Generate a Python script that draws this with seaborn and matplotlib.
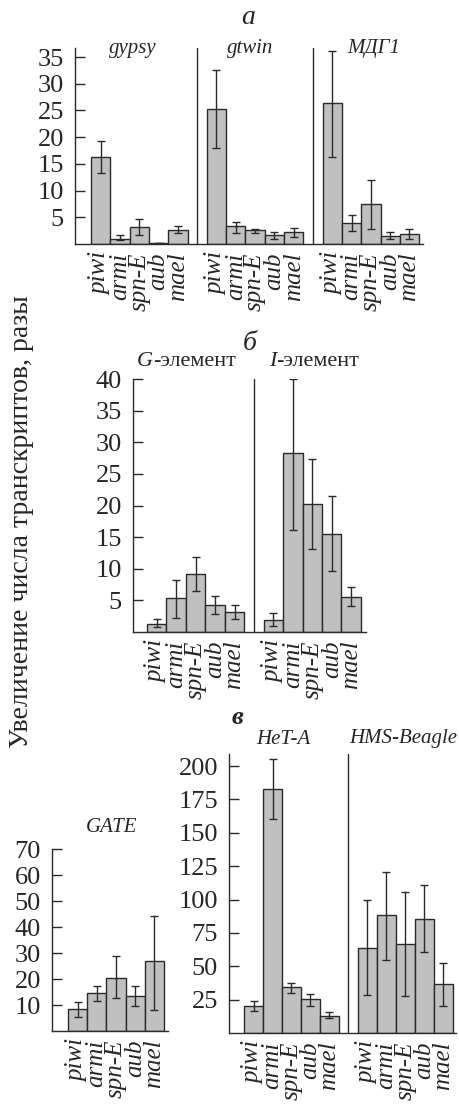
import pandas as pd
import numpy as np
import matplotlib
matplotlib.use("Agg")
import matplotlib.pyplot as plt
import seaborn as sns

# ---- DATA ----
genes = ["piwi", "armi", "spn-E", "aub", "mael"]

# panel а
gypsy_val = [16.2, 1.0, 3.1, 0.15, 2.7]
gypsy_lo = [13.3, 0.7, 1.6, 0.15, 2.0]
gypsy_hi = [19.3, 1.7, 4.7, 0.15, 3.4]

gtwin_val = [25.2, 3.3, 2.55, 1.6, 2.2]
gtwin_lo = [17.9, 2.0, 2.05, 1.0, 1.3]
gtwin_hi = [32.5, 4.2, 2.9, 2.3, 3.05]

mdg1_val = [26.4, 3.9, 7.4, 1.5, 1.9]
mdg1_lo = [16.2, 2.5, 2.9, 0.9, 1.0]
mdg1_hi = [36.2, 5.5, 12.0, 2.3, 2.9]

# panel б
g_el_val = [1.27, 5.3, 9.1, 4.3, 3.1]
g_el_lo = [0.74, 2.2, 6.5, 2.9, 2.1]
g_el_hi = [2.06, 8.3, 11.8, 5.75, 4.3]

i_el_val = [1.85, 28.3, 20.3, 15.5, 5.6]
i_el_lo = [0.9, 16.1, 13.2, 9.6, 4.1]
i_el_hi = [3.0, 40.0, 27.3, 21.5, 7.1]

# panel в
gate_val = [8.3, 14.5, 20.5, 13.4, 26.8]
gate_lo = [5.5, 11.65, 12.8, 9.6, 8.1]
gate_hi = [11.3, 17.3, 28.8, 17.3, 44.4]

heta_val = [20.25, 183.0, 34.25, 25.25, 13.0]
heta_lo = [16.25, 160.0, 30.25, 20.25, 11.0]
heta_hi = [24.0, 205.5, 37.5, 29.5, 15.75]

hms_val = [63.75, 88.5, 66.75, 85.5, 36.5]
hms_lo = [28.75, 54.5, 27.5, 60.5, 20.25]
hms_hi = [100.0, 120.25, 105.75, 110.5, 52.75]

W, H = 460, 1108
BAR = "#c0c0c0"
EDGE = "#2a2a2a"

sns.set_style("ticks")
plt.rcParams["font.family"] = ["Liberation Serif", "DejaVu Serif"]


def px_rect(x0, y0, x1, y1):
    return [x0 / W, 1 - y1 / H, (x1 - x0) / W, (y1 - y0) / H]


def px(x, y):
    return x / W, 1 - y / H


def draw_panel(ax, groups, xlim, ylim, yticks):
    rows = []
    for g, (vals, lo, hi) in enumerate(groups):
        for i, gene in enumerate(genes):
            rows.append({"pos": g * 6 + i, "gene": gene, "val": vals[i],
                         "lo": lo[i], "hi": hi[i]})
    df = pd.DataFrame(rows)
    sns.barplot(data=df, x="pos", y="val", native_scale=True, width=1,
                color=BAR, saturation=1, edgecolor=EDGE, linewidth=1,
                errorbar=None, ax=ax)
    ax.errorbar(df["pos"], df["val"],
                yerr=[df["val"] - df["lo"], df["hi"] - df["val"]],
                fmt="none", ecolor=EDGE, elinewidth=1, capsize=3, capthick=1)
    for g in range(1, len(groups)):
        ax.axvline(g * 6 - 1, color=EDGE, lw=1)
    ax.set_xlim(*xlim)
    ax.set_ylim(*ylim)
    ax.set_yticks(yticks)
    ax.set_yticklabels([str(t) for t in yticks], fontsize=19)
    ax.set_xticks(df["pos"])
    ax.set_xticklabels(df["gene"], rotation=90, fontsize=18, style="italic",
                       va="top", ha="center")
    ax.tick_params(axis="y", direction="in", length=7, width=1, color=EDGE, pad=8)
    ax.tick_params(axis="x", length=0, pad=6)
    ax.set_xlabel("")
    ax.set_ylabel("")
    sns.despine(ax=ax)
    for s in ["left", "bottom"]:
        ax.spines[s].set_color(EDGE)
        ax.spines[s].set_linewidth(1)


fig = plt.figure(figsize=(W / 100, H / 100), dpi=100)

ax_a = fig.add_axes(px_rect(75, 48, 423, 244))
draw_panel(ax_a, [(gypsy_val, gypsy_lo, gypsy_hi),
                  (gtwin_val, gtwin_lo, gtwin_hi),
                  (mdg1_val, mdg1_lo, mdg1_hi)],
           (-1.33, 16.7), (0, 36.7), [5, 10, 15, 20, 25, 30, 35])

ax_b = fig.add_axes(px_rect(133, 379, 366, 632))
draw_panel(ax_b, [(g_el_val, g_el_lo, g_el_hi),
                  (i_el_val, i_el_lo, i_el_hi)],
           (-1.22, 10.76), (0, 40), [5, 10, 15, 20, 25, 30, 35, 40])

ax_g = fig.add_axes(px_rect(52, 849, 168, 1031))
draw_panel(ax_g, [(gate_val, gate_lo, gate_hi)],
           (-1.33, 4.71), (0, 70), [10, 20, 30, 40, 50, 60, 70])

ax_h = fig.add_axes(px_rect(229, 754, 456, 1033))
draw_panel(ax_h, [(heta_val, heta_lo, heta_hi),
                  (hms_val, hms_lo, hms_hi)],
           (-1.29, 10.66), (0, 209), [25, 50, 75, 100, 125, 150, 175, 200])

# ---- TEXTS ----
fig.text(*px(248, 18), "а", fontsize=20, style="italic", ha="center", va="center")
for name, x in [("gypsy", 133), ("gtwin", 250), ("МДГ1", 374)]:
    fig.text(*px(x, 48), name, fontsize=15, style="italic", ha="center", va="center")

fig.text(*px(250, 343), "б", fontsize=20, style="italic", ha="center", va="center")
fig.text(*px(153, 362), "G", fontsize=16, style="italic", ha="right", va="center")
fig.text(*px(153, 362), "-элемент", fontsize=16, ha="left", va="center")
fig.text(*px(276, 362), "I", fontsize=16, style="italic", ha="right", va="center")
fig.text(*px(276, 362), "-элемент", fontsize=16, ha="left", va="center")

fig.text(*px(237, 717), "в", fontsize=19, style="italic", weight="bold",
         ha="center", va="center")
fig.text(*px(283, 739), "HeT-A", fontsize=15, style="italic", ha="center", va="center")
fig.text(*px(403, 739), "HMS-Beagle", fontsize=15, style="italic", ha="center", va="center")
fig.text(*px(112, 828), "GATE", fontsize=15, style="italic", ha="center", va="center")

fig.text(*px(22, 522), "Увеличение числа транскриптов, разы", fontsize=20,
         rotation=90, ha="center", va="center")

fig.savefig("out.png", dpi=100)
